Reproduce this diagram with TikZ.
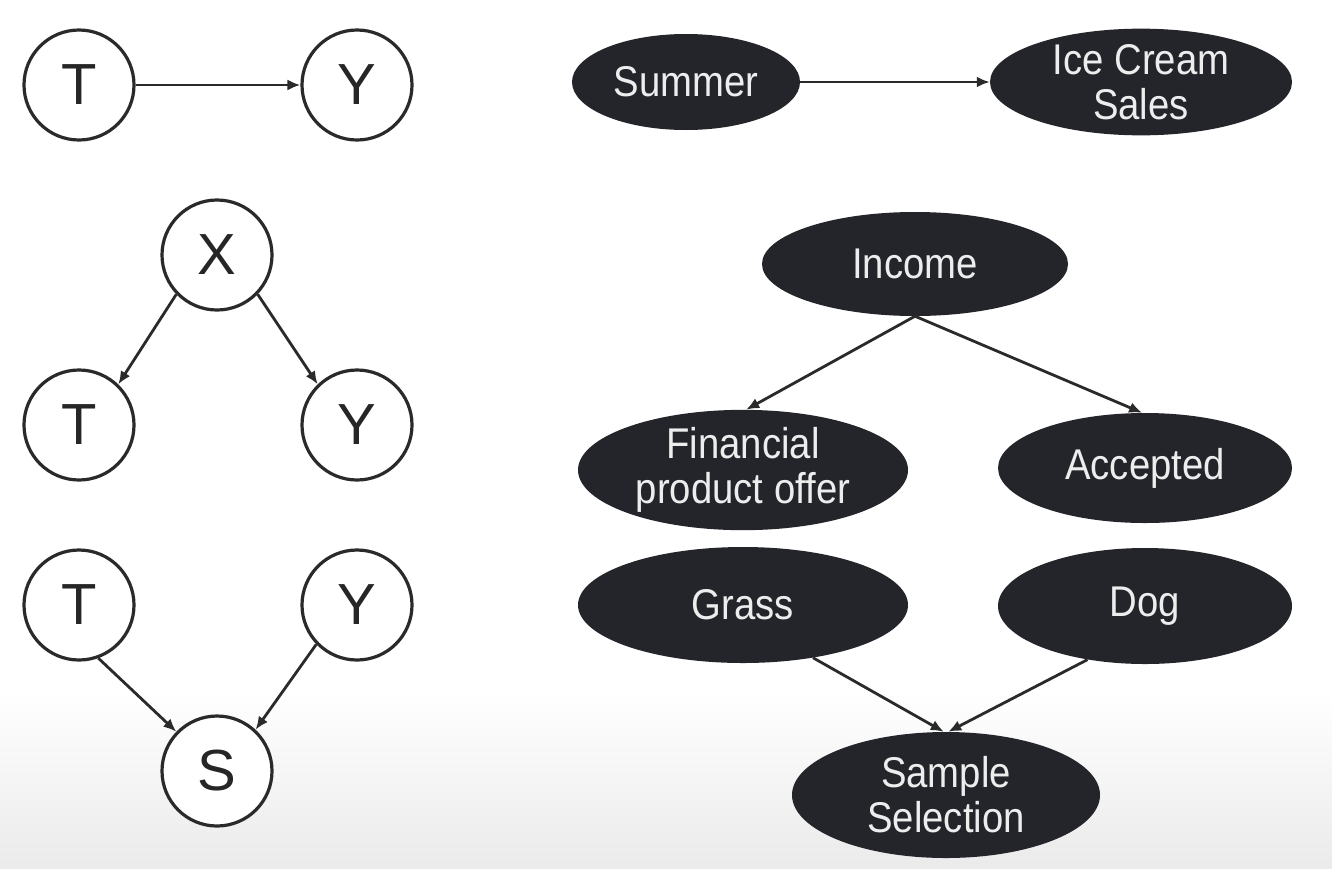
\documentclass[tikz,border=0pt]{standalone}
\usepackage{fontspec}
\setmainfont{Liberation Sans}
\newfontfamily\ellfont[FakeStretch=0.89]{Liberation Sans}
\usetikzlibrary{shapes.geometric,arrows.meta}
\definecolor{nodefill}{HTML}{23252B}
\definecolor{nodetext}{HTML}{EDEDED}
\definecolor{linecol}{HTML}{2A2A2A}
\begin{document}
\begin{tikzpicture}[x=1pt,y=-1pt,
  circ/.style={circle,draw=linecol,line width=3.2pt,fill=white,minimum size=110pt,inner sep=0pt,
    font=\fontsize{58}{60}\selectfont,text=black!85},
  ell/.style={ellipse,fill=nodefill,inner sep=0pt,text=nodetext,align=center,
    font=\ellfont\fontsize{43}{45}\selectfont},
  conn/.style={draw=linecol,line width=2.8pt,-{Latex[length=13pt,width=11pt]}}]
\useasboundingbox (0,0) rectangle (1332,868);
\fill[white] (0,0) rectangle (1332,868);
\shade[top color=white,bottom color=black!8] (0,690) rectangle (1332,868);

% left column
\node[circ] (t1) at (79,85) {T};
\node[circ] (y1) at (357,85) {Y};
\node[circ] (x2) at (217,255) {X};
\node[circ] (t2) at (79,425) {T};
\node[circ] (y2) at (357,425) {Y};
\node[circ] (t3) at (79,605) {T};
\node[circ] (y3) at (357,605) {Y};
\node[circ] (s3) at (217,771) {S};

\draw[conn] (t1.east) -- (y1.west);
\draw[conn] (x2.-136) -- (t2.46);
\draw[conn] (x2.-44) -- (y2.134);
\draw[conn] (t3.-70) -- (s3.136);
\draw[conn] (y3.-136) -- (s3.47);

% right column
\node[ell,minimum width=228pt,minimum height=96pt] (sum) at (686,82) {Summer};
\node[ell,minimum width=302pt,minimum height=102pt] (ice) at (1141,82) {Ice Cream\\Sales};
\node[ell,minimum width=306pt,minimum height=104pt] (inc) at (915,264) {Income};
\node[ell,minimum width=330pt,minimum height=110pt] (fin) at (743,470) {Financial\\product offer};
\node[ell,minimum width=294pt,minimum height=110pt] (acc) at (1145,468) {Accepted};
\node[ell,minimum width=330pt,minimum height=116pt] (gra) at (743,605) {Grass};
\node[ell,minimum width=294pt,minimum height=116pt] (dog) at (1145,606) {Dog};
\node[ell,minimum width=308pt,minimum height=126pt] (sam) at (946,795) {Sample\\Selection};

\draw[conn] (sum.east) -- (ice.west);
\draw[conn] (inc.south) -- (fin.87);
\draw[conn] (inc.south) -- (acc.93);
\draw[conn] (gra.-37) -- (sam.92);
\draw[conn] (dog.-137) -- (sam.88);
\end{tikzpicture}
\end{document}
